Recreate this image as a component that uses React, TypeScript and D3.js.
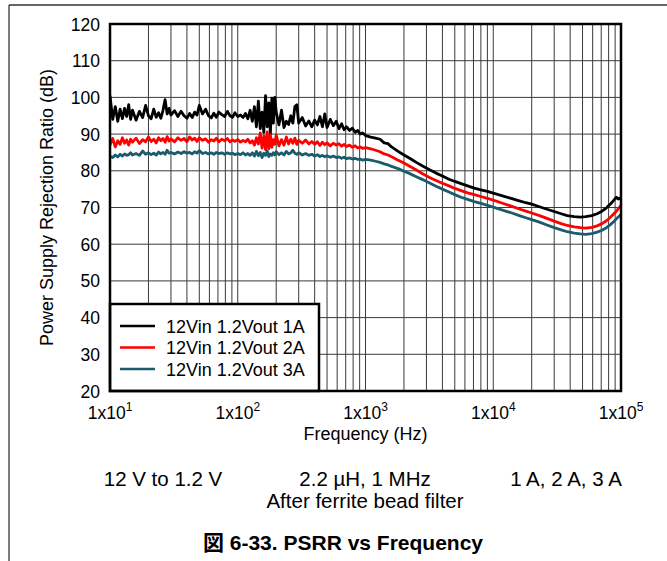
import * as d3 from 'd3';

const W = 667;
const H = 561;
const PL = 110;
const PR = 621;
const PT = 24;
const PB = 391;
const FONT = "'Liberation Sans', Arial, Helvetica, 'Noto Sans CJK JP', sans-serif";

// frequency points (Hz)
const freqs = [
  10, 10.5, 11, 11.5, 12, 12.5, 13, 13.5, 14, 14.5,
  15, 16, 17, 18, 19, 20, 21, 22, 23, 24,
  25, 26, 27, 28, 29, 30, 32, 34, 36, 38,
  40, 42, 44, 46, 48, 50, 53, 56, 59, 62,
  65, 68, 71, 75, 79, 83, 87, 91, 95, 100,
  105, 110, 115, 120, 125, 130, 135, 140, 145, 150,
  155, 160, 165, 170, 175, 180, 185, 190, 195, 200,
  210, 220, 230, 240, 250, 260, 270, 280, 290, 300,
  320, 340, 360, 380, 400, 420, 440, 460, 480, 500,
  530, 560, 590, 620, 650, 680, 710, 750, 790, 830,
  870, 910, 950, 1000,
  1100, 1200, 1300, 1400, 1500, 1600, 1800, 2000, 2200, 2500,
  2800, 3200, 3600, 4000, 4500, 5000, 5600, 6300, 7100, 8000,
  9000, 10000, 12000, 14000, 16000, 18000, 20000, 23000, 26000, 30000,
  34000, 38000, 43000, 48000, 53000, 59000, 65000, 71000, 77000, 83000,
  88000, 92000, 95000, 98000, 100000,
];

// PSRR (dB), 12Vin 1.2Vout 1A
const psrr1A = [
  100.5, 94, 97.5, 93.5, 96.8, 94.2, 97, 94.8, 98, 94,
  96.5, 93.8, 96.2, 94.5, 97.8, 95, 94.2, 96.8, 94.6, 95.8,
  94.3, 96.5, 99.4, 95.5, 97, 95.2, 96.4, 94.8, 96.2, 95,
  94.3, 95.6, 94.5, 96, 95.2, 97.8, 95.5, 96.8, 95, 94.4,
  95.7, 94.6, 96, 95.3, 94.8, 96.2, 95, 94.6, 95.8, 94.8,
  95.2, 94.5, 95.6, 94.2, 96.5, 93.5, 97.5, 92, 99, 91.5,
  96, 90.5, 100.5, 92, 98.5, 90, 99.8, 93, 100, 96,
  92.5, 96.5, 91.8, 93.5, 92.6, 95, 93, 97.5, 98, 93,
  94.5, 92.2, 93.6, 92, 93.8, 92.5, 94.8, 92, 95.5, 91.8,
  94, 92.3, 93.5, 91.5, 92.8, 91.2, 92, 91, 91.6, 90.5,
  91, 90, 90.3, 89.6,
  89.2, 88.9, 88.6, 87.6, 87.4, 86.5, 85.3, 84.3, 83.5, 82.3,
  81.3, 80.2, 79.3, 78.6, 77.7, 77.1, 76.5, 75.9, 75.3, 74.8,
  74.4, 73.9, 73.1, 72.4, 71.8, 71.3, 70.9, 70.2, 69.6, 68.9,
  68.3, 67.8, 67.5, 67.4, 67.5, 67.8, 68.3, 69, 69.9, 71,
  72, 72.8, 72.3, 72.6, 72.2,
];

// PSRR (dB), 12Vin 1.2Vout 2A
const psrr2A = [
  87, 88.8, 86.5, 88.2, 87.2, 89, 87.5, 88.4, 87, 88.6,
  87.8, 88.9, 87.4, 88.5, 87.9, 89.2, 88, 88.6, 87.6, 89,
  88.2, 88.8, 87.8, 89.3, 88.1, 88.7, 87.9, 89, 88.3, 88.8,
  87.9, 89.2, 88.4, 88.9, 88, 89, 88.3, 88.7, 87.8, 88.5,
  88.1, 88.9, 87.9, 88.6, 88.2, 88.8, 87.9, 88.4, 88, 88.5,
  87.8, 88.3, 87.9, 88.6, 87.6, 88.2, 87, 89, 87.3, 90.3,
  86.2, 89.5, 85.8, 90.6, 86, 89.8, 86.4, 88.5, 87.2, 89.7,
  86.8, 88.5, 87, 89.2, 87.3, 88.6, 87.5, 88.9, 87.2, 88.3,
  87.5, 88.4, 87.3, 88, 87.2, 87.9, 86.9, 87.8, 87.1, 87.6,
  86.8, 87.5, 87, 87.4, 86.7, 87.2, 86.6, 87, 86.4, 86.8,
  86.2, 86.5, 86.1, 86.3,
  86.0, 85.6, 85.2, 84.6, 84.3, 83.8, 82.9, 82.1, 81.3, 80.2,
  79.2, 78.1, 77.3, 76.6, 75.9, 75.2, 74.6, 74.0, 73.5, 73.0,
  72.5, 72.0, 71.1, 70.3, 69.6, 69.0, 68.5, 67.8, 67.1, 66.3,
  65.6, 65.1, 64.7, 64.5, 64.4, 64.6, 65.0, 65.6, 66.4, 67.4,
  68.3, 69.0, 69.6, 70.2, 70.6,
];

// PSRR (dB), 12Vin 1.2Vout 3A
const psrr3A = [
  84, 83.6, 84.3, 83.8, 84.5, 84, 84.6, 84.2, 84.4, 84.9,
  84.3, 84.7, 84.2, 85.4, 84.5, 84.9, 84.4, 84.8, 84.3, 85.1,
  84.6, 85, 84.5, 85.6, 84.8, 85, 84.6, 85.1, 84.7, 85.2,
  84.8, 85, 84.6, 85.2, 84.8, 85.5, 84.7, 85, 84.6, 84.9,
  84.5, 85, 84.7, 84.9, 84.5, 84.9, 84.6, 84.8, 84.4, 84.7,
  84.4, 84.9, 84.3, 84.7, 84.2, 84.9, 84, 85.3, 84.1, 85,
  83.6, 84.8, 84.2, 85.4, 83.9, 84.6, 84.2, 84.9, 84.3, 85.2,
  84.4, 84.9, 84.3, 85.3, 84.6, 84.9, 85.6, 84.8, 84.5, 84.9,
  84.3, 84.7, 84.2, 84.5, 84, 84.4, 83.9, 84.2, 83.8, 84.1,
  83.7, 84, 83.6, 83.8, 83.4, 83.7, 83.3, 83.5, 83.2, 83.4,
  83.1, 83.2, 82.9, 83.1,
  82.9, 82.6, 82.3, 81.9, 81.6, 81.2, 80.6, 79.9, 79.3, 78.4,
  77.6, 76.6, 75.7, 75.0, 74.2, 73.5, 72.8, 72.2, 71.6, 71.1,
  70.6, 70.1, 69.2, 68.5, 67.8, 67.2, 66.7, 66.0, 65.3, 64.5,
  63.9, 63.4, 63.0, 62.8, 62.7, 62.9, 63.3, 63.8, 64.5, 65.4,
  66.2, 66.9, 67.4, 67.8, 68.1,
];

const seriesNames = ['12Vin 1.2Vout 1A', '12Vin 1.2Vout 2A', '12Vin 1.2Vout 3A'];
const seriesColors = ['#000000', '#ff0000', '#1b5b6c'];
const yTicks = [20, 30, 40, 50, 60, 70, 80, 90, 100, 110, 120];
const xDecades = [1, 2, 3, 4, 5];
const conditions = ['12 V to 1.2 V', '2.2 µH, 1 MHz', '1 A, 2 A, 3 A'];
const conditionX = [163, 365, 566];

const x = d3.scaleLog().domain([10, 100000]).range([PL, PR]);
const y = d3.scaleLinear().domain([20, 120]).range([PB, PT]);

export default function App() {
  const series = [psrr1A, psrr2A, psrr3A].map((vals, i) => ({
    name: seriesNames[i],
    color: seriesColors[i],
    pts: vals.map((v, j) => [freqs[j], v] as [number, number]),
  }));
  const line = d3.line<[number, number]>().x(d => x(d[0])).y(d => y(d[1]));
  const vGrid = x.ticks().filter(t => t > 10 && t < 100000);

  return (
    <svg width={W} height={H} style={{ position: 'absolute', left: 0, top: 0, background: '#fff' }}
      fontFamily={FONT}>
      <defs>
        <clipPath id="plot"><rect x={PL} y={PT} width={PR - PL} height={PB - PT} /></clipPath>
      </defs>
      {/* page frame */}
      <line x1={9} x2={W} y1={5} y2={5} stroke="#333" strokeWidth={1.3} />
      <line x1={9} x2={9} y1={5} y2={H} stroke="#333" strokeWidth={1.3} />

      {/* grid */}
      {vGrid.map(t => (
        <line key={'v' + t} x1={x(t)} x2={x(t)} y1={PT} y2={PB} stroke="#3a3a3a" strokeWidth={1} />
      ))}
      {yTicks.slice(1, -1).map(t => (
        <line key={'h' + t} x1={PL} x2={PR} y1={y(t)} y2={y(t)} stroke="#3a3a3a" strokeWidth={1} />
      ))}

      {/* curves */}
      <g clipPath="url(#plot)">
        {series.map(s => (
          <path key={s.name} d={line(s.pts) ?? ''} fill="none" stroke={s.color}
            strokeWidth={2.8} strokeLinejoin="round" />
        ))}
      </g>

      {/* legend */}
      <rect x={PL} y={304} width={209} height={PB - 304} fill="#fff" stroke="#000" strokeWidth={2.5} />
      {series.map((s, i) => (
        <g key={'lg' + i}>
          <line x1={120} x2={155} y1={326 + i * 21.5} y2={326 + i * 21.5} stroke={s.color} strokeWidth={2.5} />
          <text x={166} y={332.5 + i * 21.5} fontSize={18} fill="#000">{s.name}</text>
        </g>
      ))}

      {/* plot border */}
      <rect x={PL} y={PT} width={PR - PL} height={PB - PT} fill="none" stroke="#000" strokeWidth={2.5} />

      {/* y ticks */}
      {yTicks.map(t => (
        <text key={'yt' + t} x={100} y={y(t) + 6.5} textAnchor="end" fontSize={17.5} fill="#000">{t}</text>
      ))}
      {/* x ticks */}
      {xDecades.map(e => (
        <text key={'xt' + e} x={x(Math.pow(10, e))} y={419} textAnchor="middle" fontSize={17.5} fill="#000">
          1x10<tspan fontSize={12} dy={-8}>{e}</tspan>
        </text>
      ))}

      {/* axis titles */}
      <text x={(PL + PR) / 2} y={440} textAnchor="middle" fontSize={18} fill="#000">Frequency (Hz)</text>
      <text transform={`translate(53,${(PT + PB) / 2}) rotate(-90)`} textAnchor="middle" fontSize={18} fill="#000">
        Power Supply Rejection Ratio (dB)
      </text>

      {/* conditions */}
      {conditions.map((c, i) => (
        <text key={c} x={conditionX[i]} y={486} textAnchor="middle" fontSize={20.5} fill="#000">{c}</text>
      ))}
      <text x={365} y={508} textAnchor="middle" fontSize={20.5} fill="#000">After ferrite bead filter</text>
      <text x={343} y={550} textAnchor="middle" fontSize={21} fontWeight="bold" fill="#000">
        図 6-33. PSRR vs Frequency
      </text>
    </svg>
  );
}
